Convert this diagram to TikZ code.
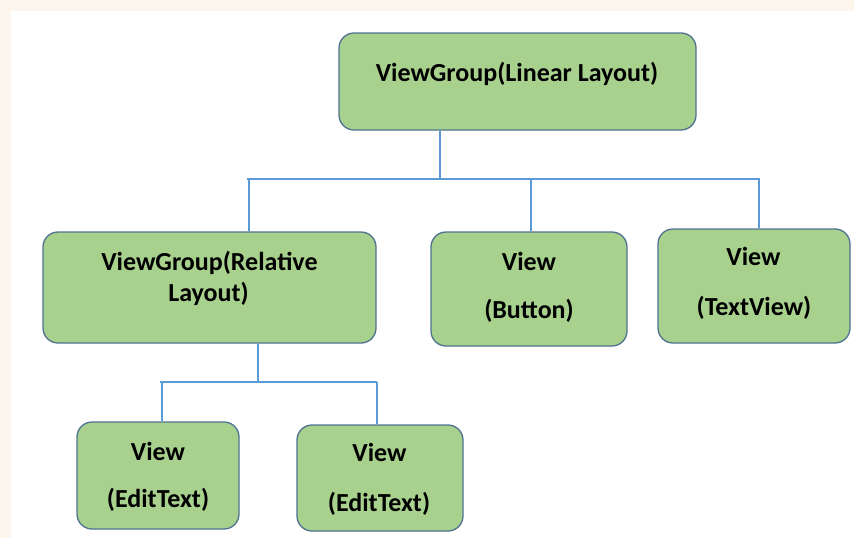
\documentclass[tikz,border=0pt]{standalone}
\usepackage{fontspec}
\setmainfont{Carlito}
\definecolor{cream}{HTML}{FDF6EC}
\definecolor{boxfill}{HTML}{A9D18E}
\definecolor{boxline}{HTML}{4F7391}
\definecolor{conn}{HTML}{5B9BD5}
\begin{document}
\begin{tikzpicture}[x=1pt,y=-1pt,
  box/.style={draw=boxline, fill=boxfill, line width=1.3pt, rounded corners=15pt, inner sep=0pt},
  lbl/.style={anchor=base, inner sep=0pt, font=\fontsize{26}{30}\selectfont\bfseries},
  link/.style={draw=conn, line width=1.3pt}]
\useasboundingbox (0,0) rectangle (854,538);
\fill[cream] (0,0) rectangle (854,538);
\fill[white] (11,11) rectangle (854,538);
% boxes
\node[box, minimum width=357pt, minimum height=97pt] (top) at (517.5,81.5) {};
\node[box, minimum width=333pt, minimum height=111pt] (rel) at (209.5,287.5) {};
\node[box, minimum width=196pt, minimum height=114pt] (btn) at (529,289) {};
\node[box, minimum width=192pt, minimum height=114pt] (tv) at (754,286) {};
\node[box, minimum width=162pt, minimum height=107pt] (e1) at (158,475.5) {};
\node[box, minimum width=166pt, minimum height=106pt] (e2) at (380,478) {};
% labels
\node[lbl] (ttop) at (517,81.5) {ViewGroup(Linear Layout)};
\node[lbl] (trel1) at (209.5,270.5) {ViewGroup(Relative};
\node[lbl] (trel2) at (208.5,301.5) {Layout)};
\node[lbl] (tbtn1) at (529,270.5) {View};
\node[lbl] (tbtn2) at (529,318.5) {(Button)};
\node[lbl] (ttv1) at (753.5,265.5) {View};
\node[lbl] (ttv2) at (754,315.5) {(TextView)};
\node[lbl] (te11) at (158,460.5) {View};
\node[lbl] (te12) at (158,507.5) {(EditText)};
\node[lbl] (te21) at (379.5,461.5) {View};
\node[lbl] (te22) at (379,511.5) {(EditText)};
% connectors level 1
\coordinate (j1) at (440,179);
\coordinate (h1l) at (247,179);
\coordinate (h1r) at (760,179);
\coordinate (d1a) at (249,179);
\coordinate (d1b) at (531,179);
\coordinate (d1c) at (759,179);
\draw[link] (top.south -| j1) -- (j1);
\draw[link] (h1l) -- (h1r);
\draw[link] (d1a) -- (rel.north -| d1a);
\draw[link] (d1b) -- (btn.north -| d1b);
\draw[link] (d1c) -- (tv.north -| d1c);
% connectors level 2
\coordinate (j2) at (258,382);
\coordinate (h2l) at (160,382);
\coordinate (h2r) at (377,382);
\coordinate (d2a) at (162,382);
\draw[link] (rel.south -| j2) -- (j2);
\draw[link] (h2l) -- (h2r);
\draw[link] (d2a) -- (e1.north -| d2a);
\draw[link] (h2r) -- (e2.north -| h2r);
\end{tikzpicture}
\end{document}
